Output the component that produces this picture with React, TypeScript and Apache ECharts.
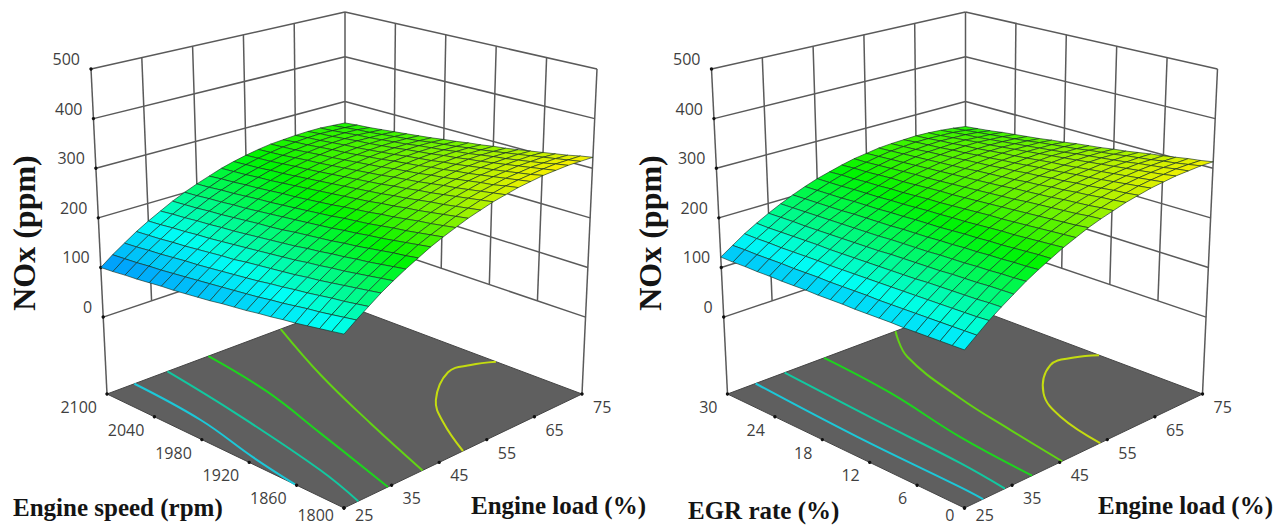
import React, { useEffect, useRef } from "react";
import * as echarts from "echarts";

const loadTicks = [25, 35, 45, 55, 65, 75];
const speedTicks = [1800, 1860, 1920, 1980, 2040, 2100];
const egrTicks = [0, 6, 12, 18, 24, 30];
const noxTicks = [0, 100, 200, 300, 400, 500];

// NOx (ppm): one row per second-factor step (low to high), one column per load step (25 to 75)
const noxBySpeed = [
  [164,181,197,213,227,240,252,264,274,283,292,299,306,311,316,319,322,323,324,323,322],
  [160,177,193,209,223,236,248,260,270,279,288,295,302,307,312,315,317,319,320,319,318],
  [156,173,189,205,219,232,245,256,266,275,284,291,298,303,307,311,313,315,315,315,313],
  [152,169,186,201,215,228,241,252,262,272,280,287,294,299,304,307,309,311,311,311,309],
  [148,166,182,197,211,225,237,248,259,268,276,284,290,295,300,303,305,307,307,307,305],
  [145,162,178,193,208,221,233,245,255,264,273,280,286,292,296,299,302,303,303,303,301],
  [141,158,175,190,204,218,230,241,251,261,269,276,283,288,292,296,298,299,300,299,297],
  [138,155,171,186,201,214,226,238,248,257,266,273,279,284,289,292,294,296,296,295,293],
  [134,151,168,183,197,211,223,234,245,254,262,269,276,281,285,289,291,292,292,291,290],
  [131,148,164,180,194,207,220,231,241,251,259,266,272,278,282,285,287,289,289,288,286],
  [128,145,161,177,191,204,217,228,238,247,256,263,269,274,279,282,284,285,285,284,283],
  [124,142,158,174,188,201,213,225,235,244,253,260,266,271,275,279,281,282,282,281,279],
  [121,139,155,170,185,198,210,222,232,241,250,257,263,268,272,275,277,279,279,278,276],
  [118,136,152,168,182,195,208,219,229,238,247,254,260,265,269,272,274,275,275,274,272],
  [115,133,149,165,179,192,205,216,226,236,244,251,257,262,266,269,271,272,272,271,269],
  [113,130,147,162,176,190,202,213,224,233,241,248,254,259,263,266,268,269,269,268,266],
  [110,127,144,159,174,187,199,211,221,230,238,245,252,257,261,264,266,267,266,265,263],
  [107,125,141,157,171,185,197,208,218,228,236,243,249,254,258,261,263,264,264,262,260],
  [105,122,139,154,169,182,194,206,216,225,233,240,246,251,255,258,260,261,261,260,257],
  [102,120,136,152,166,180,192,203,213,223,231,238,244,249,253,256,258,259,258,257,255],
  [100,118,134,150,164,177,190,201,211,220,229,236,242,247,251,253,255,256,256,254,252],
];
const noxByEgr = [
  [135,153,171,187,202,217,230,242,254,264,274,282,289,296,301,306,309,312,313,314,313],
  [134,152,169,186,201,215,228,241,252,262,271,280,287,293,298,303,306,308,310,310,309],
  [133,151,168,184,200,214,227,239,250,260,269,277,284,291,296,300,303,305,306,306,306],
  [132,150,167,183,198,212,225,237,248,258,267,275,282,288,293,297,300,302,303,303,302],
  [131,149,166,182,197,211,224,235,246,256,265,273,280,286,290,294,297,299,300,299,298],
  [130,148,165,181,196,209,222,234,245,254,263,271,277,283,288,291,294,296,296,296,295],
  [130,147,164,180,194,208,221,232,243,252,261,269,275,281,285,289,291,293,293,293,291],
  [129,146,163,178,193,207,219,231,241,251,259,266,273,278,283,286,288,290,290,289,287],
  [128,145,162,177,192,205,218,229,239,249,257,264,271,276,280,283,285,287,287,286,284],
  [127,145,161,176,191,204,216,227,238,247,255,262,268,273,278,281,283,284,284,283,280],
  [127,144,160,175,190,203,215,226,236,245,253,260,266,271,275,278,280,281,280,279,277],
  [126,143,159,174,188,202,214,225,235,243,251,258,264,269,273,275,277,278,277,276,274],
  [125,142,158,173,187,200,212,223,233,242,250,256,262,267,270,273,274,275,274,273,270],
  [125,142,157,172,186,199,211,222,231,240,248,254,260,264,268,270,272,272,271,270,267],
  [124,141,157,171,185,198,210,220,230,238,246,252,258,262,266,268,269,269,268,266,263],
  [123,140,156,171,184,197,209,219,228,237,244,251,256,260,263,265,266,266,265,263,260],
  [123,140,155,170,183,196,207,218,227,235,243,249,254,258,261,263,264,264,262,260,257],
  [122,139,154,169,182,195,206,216,226,234,241,247,252,256,259,260,261,261,259,257,254],
  [122,138,154,168,182,194,205,215,224,232,239,245,250,254,256,258,259,258,257,254,250],
  [121,138,153,167,181,193,204,214,223,231,238,243,248,252,254,256,256,255,254,251,247],
  [121,137,153,167,180,192,203,213,222,229,236,242,246,250,252,253,254,253,251,248,244],
];

// Floor contours: [load, second factor]
const speedContours = [
  [[30.75,2100],[29.5,2008],[26.6,1925],[25,1862]],
  [[37.7,2100],[35.15,2001],[30.95,1866],[28,1800]],
  [[46.3,2100],[43.8,2010],[39.55,1918],[34.25,1800]],
  [[61.5,2100],[53.8,2003],[47.15,1900],[41.5,1800]],
  [[75,1909],[71.7,1921],[67.6,1925],[59.4,1891],[54.7,1853],[50,1800]],
];
const egrContours = [
  [[30.9,30],[29.55,16.3],[29.15,3.1],[28.9,0]],
  [[37,30],[35.6,17.9],[34.6,6.3],[33.5,0]],
  [[45.3,30],[43.8,20.7],[40.65,10],[39.2,0]],
  [[60.3,30],[54.8,25.2],[50,15.6],[47.55,7.8],[45.5,0]],
  [[75,13.1],[71.9,14.4],[67.6,14.8],[59.85,11],[55.8,6.4],[53.5,0]],
];
const contourColors = ["#1cc8d8", "#12c8a0", "#1ed41e", "#62d414", "#c4dc10"];

const panels = [
  { dx: 0, table: noxBySpeed, yTicks: speedTicks, contours: speedContours, stops: [85, 165, 245, 325] },
  { dx: 620.5, table: noxByEgr, yTicks: egrTicks, contours: egrContours, stops: [95, 150, 235, 318] },
];

const titles = [
  { text: "NOx (ppm)", x: 24, y: 233, size: 32, rot: true },
  { text: "NOx (ppm)", x: 650, y: 233, size: 32, rot: true },
  { text: "Engine speed (rpm)", x: 13, y: 507, size: 25, rot: false },
  { text: "Engine load (%)", x: 471, y: 505, size: 25, rot: false },
  { text: "EGR rate (%)", x: 688, y: 510, size: 25, rot: false },
  { text: "Engine load (%)", x: 1098, y: 505, size: 25, rot: false },
];

const FLOOR_Z = -155;
const TOP_Z = 500;
const top = { F: [344, 151], R: [597, 69], L: [91, 69], B: [345, 12] };
const floor = { F: [344, 508], R: [582, 394], L: [107, 394], B: [345, 305] };

const bil = (c: any, u: number, v: number) =>
  [0, 1].map(
    (k) =>
      c.F[k] * (1 - u) * (1 - v) + c.R[k] * u * (1 - v) + c.L[k] * (1 - u) * v + c.B[k] * u * v,
  );

function project(dx: number, u: number, v: number, z: number) {
  const w = (z - FLOOR_Z) / (TOP_Z - FLOOR_Z);
  const a = bil(floor, u, v);
  const b = bil(top, u, v);
  return [a[0] + (b[0] - a[0]) * w + dx, a[1] + (b[1] - a[1]) * w];
}

const ramp = [
  [0, 120, 255],
  [0, 255, 245],
  [0, 245, 0],
  [255, 240, 0],
];
function colorOf(z: number, stops: number[]) {
  let k = 0;
  while (k < 2 && z > stops[k + 1]) k++;
  const t = Math.max(0, Math.min(1, (z - stops[k]) / (stops[k + 1] - stops[k])));
  const c = ramp[k].map((x, n) => Math.round(x + (ramp[k + 1][n] - x) * t));
  return `rgb(${c[0]},${c[1]},${c[2]})`;
}

function layer(items: any[], draw: (item: any, c: (p: number[]) => number[]) => any) {
  return {
    type: "custom",
    coordinateSystem: "cartesian2d",
    clip: false,
    silent: true,
    data: items.map((_, k) => [k, 0]),
    encode: { x: 0, y: 1 },
    renderItem: (params: any, api: any) =>
      draw(items[params.dataIndex], (p) => api.coord(p)),
  };
}

const GRID = "#5a5a5a";
const lineEl = (a: number[], b: number[], stroke = GRID, lineWidth = 1.5) => ({
  type: "line",
  shape: { x1: a[0], y1: a[1], x2: b[0], y2: b[1] },
  style: { stroke, lineWidth },
});
const labelEl = (text: string, x: number, y: number, align: string) => ({
  type: "text",
  x,
  y,
  style: {
    text,
    x: 0,
    y: 0,
    align,
    verticalAlign: "middle",
    fill: "#3f3f3f",
    fontFamily: "'Open Sans'",
    fontSize: 16,
  },
});

function panelSeries(p: (typeof panels)[number]) {
  const { dx, table, yTicks, contours, stops } = p;
  const U = (load: number) => (load - 25) / 50;
  const y0 = yTicks[0];
  const y1 = yTicks[yTicks.length - 1];
  const V = (y: number) => (y - y0) / (y1 - y0);
  const P = (u: number, v: number, z: number) => project(dx, u, v, z);

  const wallSegs: number[][][] = [];
  noxTicks.forEach((z) => {
    wallSegs.push([[0, 1, z], [1, 1, z]]);
    wallSegs.push([[1, 1, z], [1, 0, z]]);
  });
  loadTicks.slice(1).forEach((l) => wallSegs.push([[U(l), 1, 0], [U(l), 1, TOP_Z]]));
  yTicks.slice(1, -1).forEach((s) => wallSegs.push([[1, V(s), 0], [1, V(s), TOP_Z]]));
  wallSegs.push([[0, 1, FLOOR_Z], [0, 1, TOP_Z]]);
  wallSegs.push([[1, 0, FLOOR_Z], [1, 0, TOP_Z]]);

  const walls = layer(wallSegs, (s, c) =>
    lineEl(c(P(s[0][0], s[0][1], s[0][2])), c(P(s[1][0], s[1][1], s[1][2]))),
  );

  const floorLayer = layer([0], (_, c) => ({
    type: "polygon",
    shape: {
      points: [
        c(P(0, 0, FLOOR_Z)),
        c(P(1, 0, FLOOR_Z)),
        c(P(1, 1, FLOOR_Z)),
        c(P(0, 1, FLOOR_Z)),
      ],
    },
    style: { fill: "#5f5f5f", stroke: "#454545", lineWidth: 1 },
  }));

  const contourLayer = layer(
    contours.map((pts, k) => ({ pts, color: contourColors[k] })),
    (item, c) => ({
      type: "polyline",
      shape: {
        points: item.pts.map((q: number[]) => c(P(U(q[0]), V(q[1]), FLOOR_Z))),
        smooth: 0.4,
      },
      style: { stroke: item.color, lineWidth: 2, fill: "none" },
    }),
  );

  const dots: number[][] = [];
  noxTicks.forEach((z) => dots.push([0, 1, z]));
  loadTicks.forEach((l) => dots.push([U(l), 0, FLOOR_Z]));
  yTicks.forEach((s) => dots.push([0, V(s), FLOOR_Z]));
  const dotLayer = layer(dots, (d, c) => {
    const q = c(P(d[0], d[1], d[2]));
    return {
      type: "circle",
      shape: { cx: q[0], cy: q[1], r: 1.7 },
      style: { fill: "#111111" },
    };
  });

  const labels = [
    ...noxTicks.map((z) => ({ text: String(z), a: [0, 1, z], ox: -11, oy: -10, al: "right" })),
    ...loadTicks.map((l) => ({ text: String(l), a: [U(l), 0, FLOOR_Z], ox: 11, oy: 13, al: "left" })),
    ...yTicks.map((s) => ({ text: String(s), a: [0, V(s), FLOOR_Z], ox: -10, oy: 13, al: "right" })),
  ];
  const labelLayer = layer(labels, (t, c) => {
    const q = c(P(t.a[0], t.a[1], t.a[2]));
    return labelEl(t.text, q[0] + t.ox, Math.min(q[1] + t.oy, 515), t.al);
  });

  const cells: { i: number; j: number }[] = [];
  for (let j = 0; j < table.length - 1; j++)
    for (let i = 0; i < table[0].length - 1; i++) cells.push({ i, j });
  cells.sort((a, b) => b.i + b.j - (a.i + a.j));
  const nu = table[0].length - 1;
  const nv = table.length - 1;
  const surface = layer(cells, ({ i, j }, c) => {
    const pt = (a: number, b: number) => c(P(a / nu, b / nv, table[b][a]));
    const avg = (table[j][i] + table[j][i + 1] + table[j + 1][i] + table[j + 1][i + 1]) / 4;
    return {
      type: "polygon",
      shape: { points: [pt(i, j), pt(i + 1, j), pt(i + 1, j + 1), pt(i, j + 1)] },
      style: { fill: colorOf(avg, stops), stroke: "rgba(20,45,35,0.8)", lineWidth: 0.8 },
    };
  });

  return [walls, floorLayer, contourLayer, dotLayer, labelLayer, surface];
}

export default function App() {
  const ref = useRef<HTMLDivElement>(null);
  useEffect(() => {
    const chart = echarts.init(ref.current as HTMLDivElement, undefined, { renderer: "svg" });
    chart.setOption({
      animation: false,
      backgroundColor: "#ffffff",
      grid: { left: 0, top: 0, width: 1285, height: 527 },
      xAxis: { type: "value", min: 0, max: 1285, show: false },
      yAxis: { type: "value", min: 0, max: 527, inverse: true, show: false },
      graphic: titles.map((t) => ({
        type: "text",
        x: t.x,
        y: t.y,
        rotation: t.rot ? Math.PI / 2 : 0,
        z: 10,
        style: {
          text: t.text,
          align: t.rot ? "center" : "left",
          verticalAlign: "middle",
          fill: "#141414",
          fontFamily: "'Liberation Serif'",
          fontWeight: "bold",
          fontSize: t.size,
        },
      })),
      series: panels.flatMap(panelSeries),
    });
    return () => chart.dispose();
  }, []);
  return (
    <div
      ref={ref}
      style={{ position: "fixed", left: 0, top: 0, width: 1285, height: 527, background: "#fff" }}
    />
  );
}
